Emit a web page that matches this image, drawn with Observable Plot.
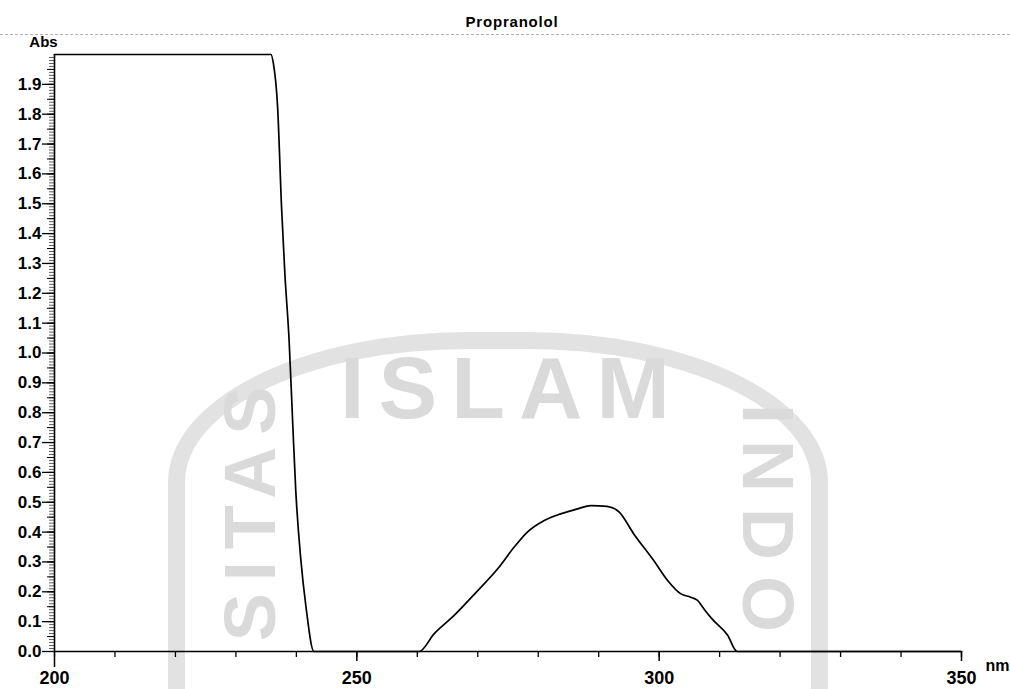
<!DOCTYPE html>
<html>
<head>
<meta charset="utf-8">
<script src="https://cdn.jsdelivr.net/npm/d3@7"></script>
<script src="https://cdn.jsdelivr.net/npm/@observablehq/plot@0.6"></script>
<style>
  html, body { margin: 0; padding: 0; background: #fff; }
  #page { position: relative; width: 1010px; height: 689px; overflow: hidden; }
  #head { position: relative; width: 1010px; height: 34px; border-bottom: 1px dashed #b0b0b0; z-index: 2; }
  #title { position: absolute; left: 512px; top: 13px; transform: translateX(-50%);
           font: bold 15px "Liberation Sans", Arial, sans-serif; letter-spacing: 0.8px; color: #000; }
  #chart { position: relative; z-index: 2; }
  #chart svg { display: block; }
  .wm { position: absolute; color: #dadada; font-family: "Liberation Sans", Arial, sans-serif;
        font-weight: bold; z-index: 1; white-space: nowrap; line-height: 1; }
  #ring { position: absolute; left: 168px; top: 332px; width: 626px; height: 520px;
          border: 17px solid #e2e2e2; border-radius: 300px 300px 0 0 / 150px 150px 0 0; z-index: 1; }
</style>
</head>
<body>
<div id="page">
  <div id="ring"></div>
  <div class="wm" style="left:340px; top:344px; font-size:88px; letter-spacing:14px;">ISLAM</div>
  <div class="wm" style="left:768px; top:526px; font-size:72px; letter-spacing:16px; transform: translate(-50%,-50%) rotate(90deg);">INDO</div>
  <div class="wm" style="left:250px; top:508px; font-size:72px; letter-spacing:12px; transform: translate(-50%,-50%) rotate(-90deg);">SITAS</div>
  <div id="head"><span id="title">Propranolol</span></div>
  <div id="chart"></div>
</div>
<script>
// Wavelength (nm) and absorbance
const wavelengths = [200, 235.8, 236.2, 236.9, 237.55, 238.1, 238.8, 239.4, 239.9, 240.7, 241.6, 242.9,
  260.3, 262.8, 266.1, 270.0, 273.3, 276.0, 278.2, 281.0, 283.7, 286.5, 288.7, 291.4, 293.4,
  295.8, 299.1, 301.4, 303.6, 305.2, 306.3, 307.5, 308.7, 311.3, 312.9, 350];
const absorbance = [2.0, 2.0, 1.97, 1.823, 1.488, 1.265, 1.042, 0.763, 0.539, 0.316, 0.148, 0.0,
  0.0, 0.06, 0.121, 0.204, 0.277, 0.349, 0.400, 0.439, 0.461, 0.478, 0.489, 0.486, 0.467,
  0.394, 0.305, 0.238, 0.193, 0.182, 0.172, 0.14, 0.11, 0.055, 0.0, 0.0];

const yTicks = [0.0, 0.1, 0.2, 0.3, 0.4, 0.5, 0.6, 0.7, 0.8, 0.9, 1.0, 1.1, 1.2, 1.3, 1.4, 1.5, 1.6, 1.7, 1.8, 1.9];
const yTickLabels = ["0.0","0.1","0.2","0.3","0.4","0.5","0.6","0.7","0.8","0.9","1.0","1.1","1.2","1.3","1.4","1.5","1.6","1.7","1.8","1.9"];
const xMajor = [250, 300, 350];
const xMinor = [200, 210, 220, 230, 240, 250, 260, 270, 280, 290, 300, 310, 320, 330, 340, 350];
const xLabels = [200, 250, 300, 350];
const yLabel = "Abs";
const xUnit = "nm";

const data = wavelengths.map((w, i) => ({w, a: absorbance[i]}));
const yMinor = d3.range(0, 200).map(i => i / 100);
const yMid = d3.range(0, 40).map(i => i / 20);

const font = "'Liberation Sans', Arial, sans-serif";

const chart = Plot.plot({
  width: 1010,
  height: 654,
  marginLeft: 54,
  marginRight: 49,
  marginTop: 19,
  marginBottom: 38,
  x: {domain: [200, 350]},
  y: {domain: [0, 2]},
  style: {fontFamily: font, color: "#000", background: "transparent", overflow: "visible"},
  marks: [
    // y axis: dense minor ticks, left of the axis line
    Plot.axisY({ticks: yMinor, tickSize: 5, tickFormat: null, text: null, label: null, stroke: "#333", strokeWidth: 0.8}),
    Plot.axisY({ticks: yMid, tickSize: 7, tickFormat: null, text: null, label: null, stroke: "#000", strokeWidth: 1}),
    Plot.axisY({ticks: yTicks, tickSize: 12, tickPadding: 1,
      tickFormat: d => yTickLabels[yTicks.indexOf(d)], label: null,
      fontSize: 17, fontWeight: "bold", strokeWidth: 1.3}),
    // x axis ticks
    Plot.axisX({ticks: xMinor, tickSize: 6, tickFormat: () => "", label: null, strokeWidth: 1.3}),
    Plot.axisX({ticks: xMajor, tickSize: 10, tickFormat: () => "", label: null, strokeWidth: 1.5}),
    Plot.axisX({ticks: [200], tickSize: 16, tickFormat: () => "", label: null, strokeWidth: 1.5}),
    Plot.axisX({ticks: xLabels, tickSize: 0, tickPadding: 20, label: null,
      tickFormat: d => String(d), fontSize: 18, fontWeight: "bold"}),
    // axis lines
    Plot.ruleX([200], {y1: 0, y2: 2, stroke: "#000", strokeWidth: 1.6}),
    Plot.ruleY([0], {x1: 200, x2: 350, stroke: "#000", strokeWidth: 1.6}),
    // spectrum
    Plot.line(data, {x: "w", y: "a", stroke: "#000", strokeWidth: 1.7, curve: "monotone-x"}),
    // axis captions
    Plot.text([yLabel], {frameAnchor: "top-left", dx: -11, dy: -12, lineAnchor: "middle",
      textAnchor: "middle", fontSize: 15, fontWeight: "bold"}),
    Plot.text([xUnit], {frameAnchor: "bottom-right", dx: 24, dy: 14, lineAnchor: "middle",
      textAnchor: "start", fontSize: 16, fontWeight: "bold"})
  ]
});
document.getElementById("chart").appendChild(chart);
</script>
</body>
</html>
